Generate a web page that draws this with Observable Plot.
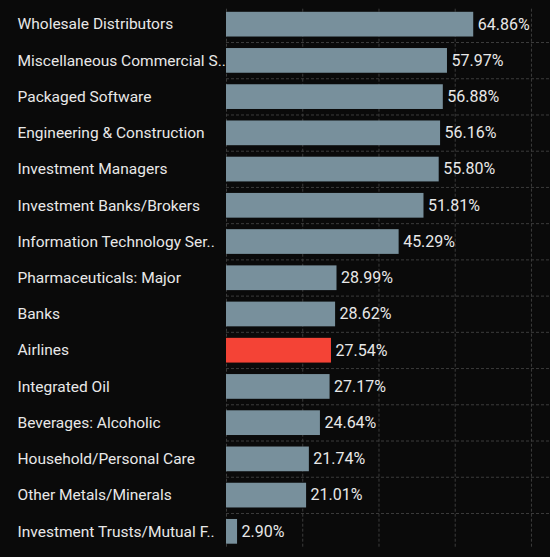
<!DOCTYPE html>
<html>
<head>
<meta charset="utf-8">
<script src="https://cdn.jsdelivr.net/npm/d3@7"></script>
<script src="https://cdn.jsdelivr.net/npm/@observablehq/plot@0.6"></script>
<style>
  html, body { margin: 0; padding: 0; background: #0a0a0a; }
  #chart svg { display: block; }
</style>
</head>
<body>
<div id="chart"></div>
<script>
const categories = [
  "Wholesale Distributors",
  "Miscellaneous Commercial Services",
  "Packaged Software",
  "Engineering & Construction",
  "Investment Managers",
  "Investment Banks/Brokers",
  "Information Technology Services",
  "Pharmaceuticals: Major",
  "Banks",
  "Airlines",
  "Integrated Oil",
  "Beverages: Alcoholic",
  "Household/Personal Care",
  "Other Metals/Minerals",
  "Investment Trusts/Mutual Funds"
];
const values = [64.86, 57.97, 56.88, 56.16, 55.80, 51.81, 45.29, 28.99, 28.62, 27.54, 27.17, 24.64, 21.74, 21.01, 2.90];
const highlight = "Airlines";
const xTicks = [0, 20, 40, 60, 80];

const rows = categories.map((c, i) => ({name: c, value: values[i], i}));
const n = categories.length;
const truncate = s => s.length > 26 ? s.slice(0, 26) + ".." : s;
const font = "Roboto, 'DejaVu Sans', sans-serif";

const chart = Plot.plot({
  width: 550,
  height: 557,
  marginLeft: 226,
  marginRight: 0,
  marginTop: 5.8,
  marginBottom: 7.8,
  style: {background: "#0a0a0a", color: "#e8e8e8", fontFamily: font, fontSize: "16px"},
  x: {domain: [0, 85], axis: null},
  y: {domain: [n - 0.5, -0.5], axis: null},
  marks: [
    Plot.ruleX(xTicks, {x: d => d, y1: -0.42, y2: n - 0.53, stroke: "#3c3c3c", strokeDasharray: "3,2"}),
    Plot.ruleY(d3.range(1, n), {y: d => d - 0.5, stroke: "#3c3c3c", strokeDasharray: "3,2"}),
    Plot.rectX(rows, {
      x1: 0, x2: "value",
      y1: d => d.i - 0.5, y2: d => d.i + 0.5,
      insetTop: 6, insetBottom: 5.5,
      fill: d => d.name === highlight ? "#f44336" : "#78909c"
    }),
    Plot.text(rows, {
      x: "value", y: "i",
      text: d => d.value.toFixed(2) + "%",
      textAnchor: "start", dx: 4, fill: "#e8e8e8", fontSize: 16
    }),
    Plot.text(rows, {
      y: "i", frameAnchor: "left",
      text: d => truncate(d.name),
      textAnchor: "start", dx: -209, fill: "#e8e8e8", fontSize: 15.5
    })
  ]
});
document.getElementById("chart").append(chart);
</script>
</body>
</html>
